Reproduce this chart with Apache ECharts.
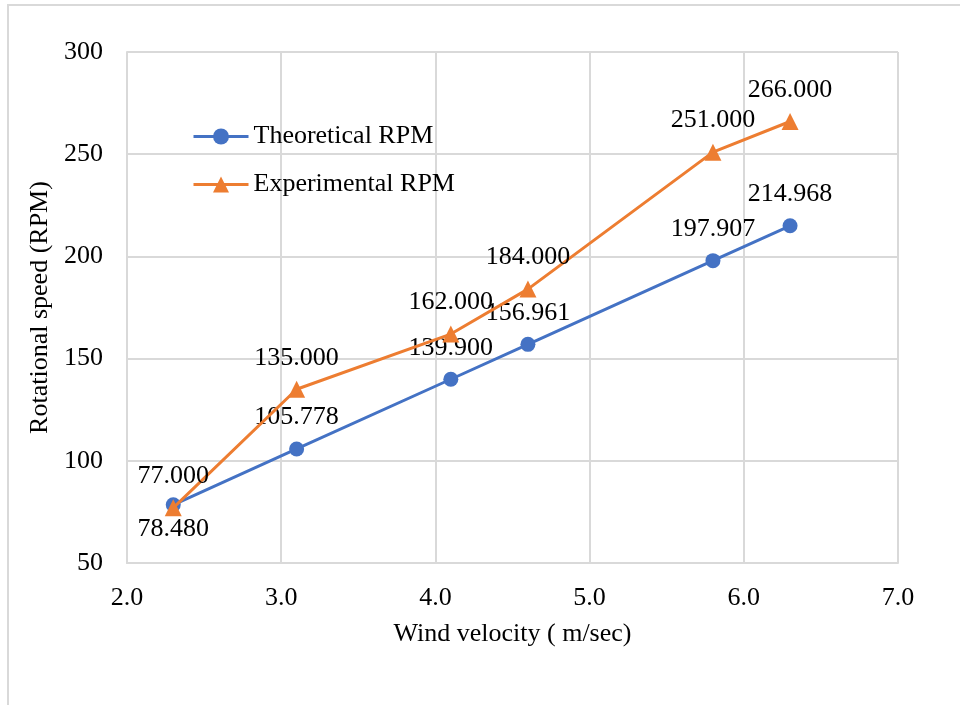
<!DOCTYPE html>
<html>
<head>
<meta charset="utf-8">
<script src="https://cdn.jsdelivr.net/npm/echarts@6/dist/echarts.min.js"></script>
<style>
  html, body { margin: 0; padding: 0; background: #fff; }
  #frame { position: absolute; left: 7px; top: 4px; width: 970px; height: 720px;
           border-left: 2px solid #d9d9d9; border-top: 2px solid #d9d9d9; }
  #chart { position: absolute; left: 0; top: 0; width: 960px; height: 705px; }
</style>
</head>
<body>
<div id="frame"></div>
<div id="chart"></div>
<script>
// wind velocity (m/sec)
const windSpeed = [2.3, 3.1, 4.1, 4.6, 5.8, 6.3];
// rotational speed (RPM)
const theoreticalRpm = [78.48, 105.778, 139.9, 156.961, 197.907, 214.968];
const experimentalRpm = [77, 135, 162, 184, 251, 266];

const FONT = "Liberation Serif";
const FS = 26;
const chart = echarts.init(document.getElementById("chart"));

const toPoints = (ys) => windSpeed.map((x, i) => [x, ys[i]]);

chart.setOption({
  animation: false,
  textStyle: { fontFamily: FONT },
  grid: { left: 127, top: 52, right: 62, bottom: 142 },
  legend: {
    orient: "vertical",
    left: 187,
    top: 117,
    itemWidth: 55,
    itemHeight: 20,
    itemGap: 19,
    lineStyle: { width: 3 },
    textStyle: { fontFamily: FONT, fontSize: FS, color: "#000", lineHeight: 29 },
    data: ["Theoretical RPM", "Experimental RPM"],
  },
  xAxis: {
    type: "value",
    min: 2,
    max: 7,
    interval: 1,
    name: "Wind velocity ( m/sec)",
    nameLocation: "middle",
    nameGap: 58,
    nameTextStyle: { fontFamily: FONT, fontSize: FS, color: "#000" },
    axisLine: { show: true, onZero: false, lineStyle: { color: "#d9d9d9", width: 2 } },
    axisTick: { show: false },
    axisLabel: { fontFamily: FONT, fontSize: FS, color: "#000", margin: 22, formatter: (v) => v.toFixed(1) },
    splitLine: { show: true, lineStyle: { color: "#d9d9d9", width: 2 } },
  },
  yAxis: {
    type: "value",
    min: 50,
    max: 300,
    interval: 50,
    name: "Rotational speed (RPM)",
    nameLocation: "middle",
    nameGap: 74,
    nameTextStyle: { fontFamily: FONT, fontSize: FS, color: "#000" },
    axisLine: { show: true, lineStyle: { color: "#d9d9d9", width: 2 } },
    axisTick: { show: false },
    axisLabel: { fontFamily: FONT, fontSize: FS, color: "#000", margin: 24 },
    splitLine: { show: true, lineStyle: { color: "#d9d9d9", width: 2 } },
  },
  series: [
    {
      name: "Theoretical RPM",
      type: "line",
      data: toPoints(theoreticalRpm).map((p, i) => ({
        value: p,
        label: i === 0 ? { position: "bottom", distance: 4 } : undefined,
      })),
      symbol: "circle",
      symbolSize: 15,
      color: "#4472C4",
      lineStyle: { width: 3, color: "#4472C4" },
      label: {
        show: true,
        position: "top",
        distance: 11,
        fontFamily: FONT,
        fontSize: FS,
        color: "#000",
        formatter: (p) => p.value[1].toFixed(3),
      },
      z: 2,
    },
    {
      name: "Experimental RPM",
      type: "line",
      data: toPoints(experimentalRpm),
      symbol: "triangle",
      symbolSize: 17,
      color: "#ED7D31",
      lineStyle: { width: 3, color: "#ED7D31" },
      label: {
        show: true,
        position: "top",
        distance: 10,
        fontFamily: FONT,
        fontSize: FS,
        color: "#000",
        formatter: (p) => p.value[1].toFixed(3),
      },
      z: 3,
    },
  ],
});
</script>
</body>
</html>
